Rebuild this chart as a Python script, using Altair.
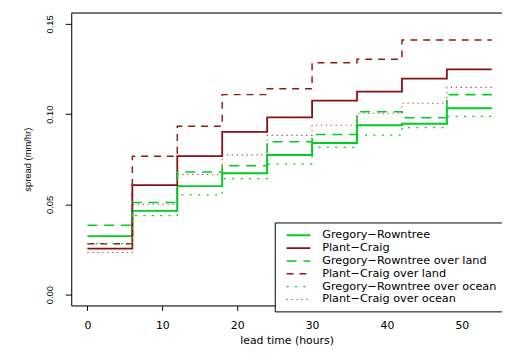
import altair as alt
import pandas as pd

# step start times (hours) and the end of the last step
lead_starts = [0, 6, 12, 18, 24, 30, 36, 42, 48]
lead_end = 54

series_names = [
    "Gregory−Rowntree",
    "Plant−Craig",
    "Gregory−Rowntree over land",
    "Plant−Craig over land",
    "Gregory−Rowntree over ocean",
    "Plant−Craig over ocean",
]

gr_all = [0.0324, 0.0464, 0.0601, 0.0672, 0.0773, 0.0840, 0.0938, 0.0947, 0.1033]
pc_all = [0.0255, 0.0607, 0.0767, 0.0902, 0.0982, 0.1075, 0.1124, 0.1197, 0.1248]
gr_land = [0.0384, 0.0510, 0.0679, 0.0714, 0.0847, 0.0887, 0.1013, 0.0980, 0.1108]
pc_land = [0.0282, 0.0767, 0.0933, 0.1108, 0.1140, 0.1284, 0.1304, 0.1410, 0.1410]
gr_ocean = [0.0282, 0.0437, 0.0552, 0.0643, 0.0723, 0.0816, 0.0884, 0.0925, 0.0987]
pc_ocean = [0.0233, 0.0501, 0.0665, 0.0774, 0.0882, 0.0938, 0.1005, 0.1060, 0.1148]

series_values = [gr_all, pc_all, gr_land, pc_land, gr_ocean, pc_ocean]

colors = ["#00CD22", "#8B1010", "#00CD22", "#8B1A1A", "#00CD22", "#B04848"]
dashes = [[1, 0], [1, 0], [10, 7], [7, 6], [2, 6.5], [1.3, 3.7]]
widths = [2, 1.1, 2, 1.1, 2, 1.1]

x_ticks = [0, 10, 20, 30, 40, 50]
y_ticks = [0.0, 0.05, 0.10, 0.15]

rows = []
for si, (name, vals) in enumerate(zip(series_names, series_values)):
    xs = lead_starts + [lead_end]
    ys = vals + [vals[-1]]
    for x, y in zip(xs, ys):
        rows.append({"series": name, "order": si, "lead": x, "spread": y})
df = pd.DataFrame(rows)

x_scale = alt.Scale(domain=[-2.16, 55.36], nice=False, zero=False)
y_scale = alt.Scale(domain=[-0.006, 0.156], nice=False, zero=False)

lines = alt.Chart(df).mark_line(interpolate="step-after", strokeCap="butt").encode(
    x=alt.X("lead:Q", scale=x_scale,
            axis=alt.Axis(values=x_ticks, title="lead time (hours)", grid=False,
                          domainColor="black", tickColor="black", tickSize=5,
                          labelFont="DejaVu Sans", labelFontSize=11, labelColor="black",
                          labelPadding=9, titleFont="DejaVu Sans", titleFontSize=11,
                          titleFontWeight="normal", titleColor="black", titlePadding=5)),
    y=alt.Y("spread:Q", scale=y_scale,
            axis=alt.Axis(values=y_ticks, format=".2f", title="spread (mm/hr)", grid=False,
                          domainColor="black", tickColor="black", tickSize=6,
                          labelAngle=270, labelAlign="center", labelBaseline="bottom",
                          labelFont="Liberation Sans", labelFontSize=9.5, labelColor="black",
                          labelPadding=11, titleFont="Liberation Sans", titleFontSize=9.5,
                          titleFontWeight="normal", titleColor="black", titlePadding=12)),
    color=alt.Color("series:N", scale=alt.Scale(domain=series_names, range=colors),
                    legend=alt.Legend(title=None, orient="none", legendX=206, legendY=212,
                                      symbolType="M-2,0H2", symbolSize=144,
                                      symbolFillColor="transparent",
                                      labelFont="DejaVu Sans", labelFontSize=11.4,
                                      labelColor="black", labelOffset=17, labelLimit=400,
                                      strokeColor="black", padding=6, symbolOffset=11,
                                      fillColor="white", rowPadding=0)),
    strokeDash=alt.StrokeDash("series:N", scale=alt.Scale(domain=series_names, range=dashes),
                              legend=alt.Legend(title=None)),
    strokeWidth=alt.StrokeWidth("series:N", scale=alt.Scale(domain=series_names, range=widths),
                                legend=alt.Legend(title=None)),
    order=alt.Order("order:Q"),
    detail="series:N",
)

top_border = alt.Chart(pd.DataFrame({"v": [0.156]})).mark_rule(color="black", strokeWidth=1).encode(
    y=alt.Y("v:Q", scale=y_scale)
)

chart = alt.layer(lines, top_border).properties(
    width=436, height=296,
    autosize=alt.AutoSizeParams(type="none"),
    padding={"left": 64, "top": 3, "right": 0, "bottom": 42},
).configure_view(strokeWidth=0).configure(background="white")

chart.save("out.html", embed_options={"renderer": "svg", "actions": False})
